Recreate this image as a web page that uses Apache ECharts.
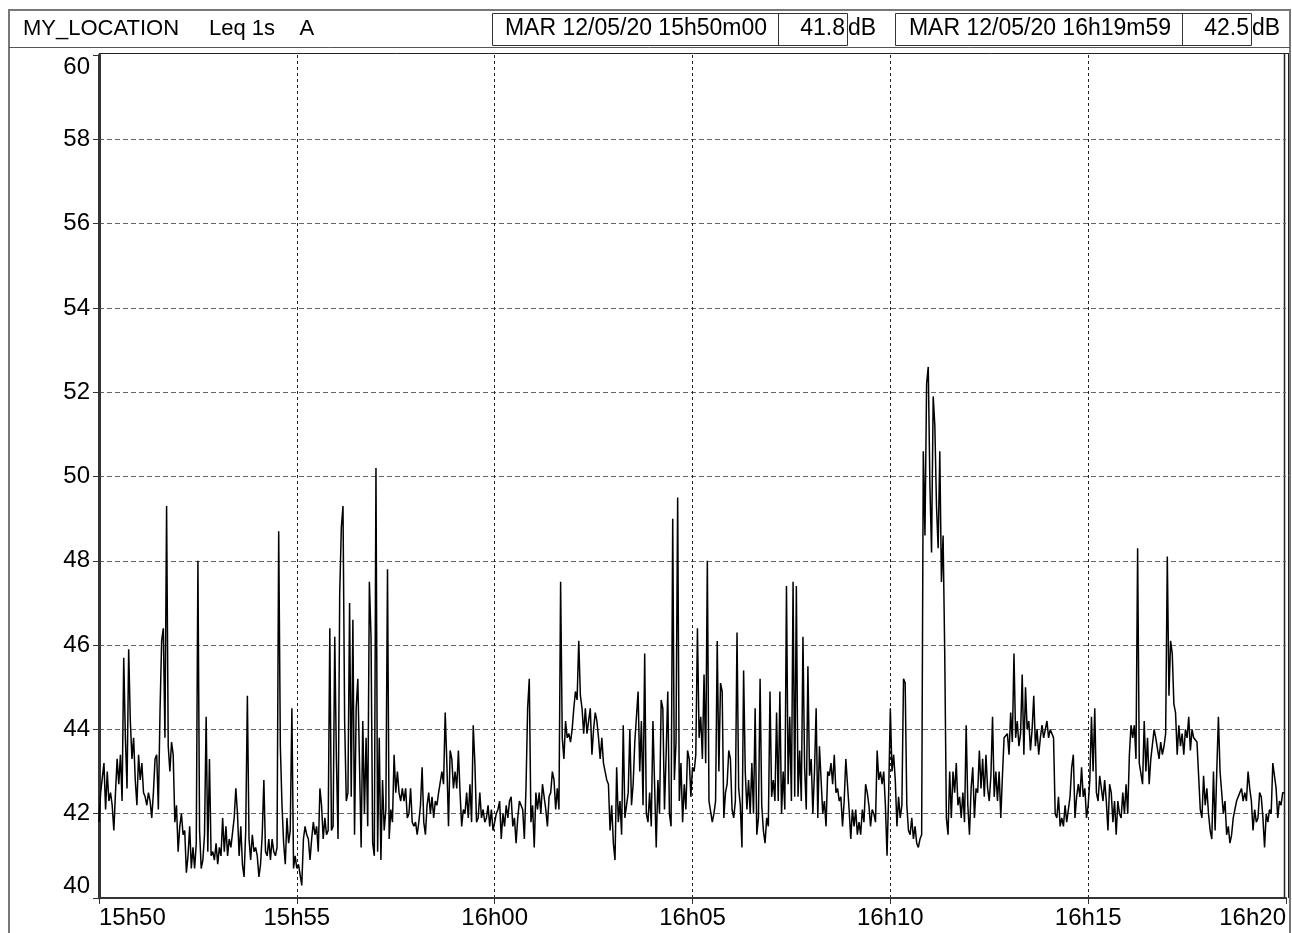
<!DOCTYPE html>
<html>
<head>
<meta charset="utf-8">
<title>MY_LOCATION Leq 1s A</title>
<script src="https://cdn.jsdelivr.net/npm/echarts@6/dist/echarts.min.js"></script>
<style>
  html, body { margin: 0; padding: 0; background: #fff; }
  #chart { width: 1292px; height: 933px; }
</style>
</head>
<body>
<div id="chart"></div>
<script>
// header fields
const STATION = 'MY_LOCATION'
const METRIC = 'Leq 1s    A'
const START_STAMP = 'MAR 12/05/20 15h50m00'
const START_LEVEL = '41.8'
const END_STAMP = 'MAR 12/05/20 16h19m59'
const END_LEVEL = '42.5'
const UNIT = 'dB'

// x axis: seconds since 15h50, one label every 5 minutes
const TIME_LABELS = ['15h50', '15h55', '16h00', '16h05', '16h10', '16h15', '16h20']
const STEP_S = 2.5

// Leq levels (dB), one value per 2.5 s, one array per 5 minutes
const level1550 = [
  41.8, 42.5, 42.5, 43.2, 42.1, 43.0, 42.3, 42.5, 42.2, 41.6,
  42.5, 43.3, 42.7, 43.4, 42.3, 45.7, 43.8, 42.6, 45.9, 44.2,
  43.3, 43.8, 42.8, 42.2, 43.4, 42.8, 43.2, 42.5, 42.4, 42.2,
  42.5, 42.3, 41.9, 42.5, 43.3, 43.4, 42.1, 44.4, 46.1, 46.4,
  43.8, 49.3, 43.6, 43.0, 43.7, 43.4, 41.8, 42.2, 41.1, 41.7,
  42.0, 41.5, 41.6, 40.6, 41.0, 41.7, 40.7, 41.2, 40.7, 41.3,
  48.0, 41.6, 40.7, 40.9, 41.5, 44.3, 41.1, 43.3, 41.0, 41.1,
  40.9, 41.3, 40.8, 41.2, 41.0, 41.9, 41.1, 41.7, 41.0, 41.4,
  41.2, 41.2, 41.9, 42.6, 42.0, 41.0, 41.7, 40.8, 40.5, 41.6,
  44.8, 41.4, 40.9, 41.5, 41.1, 41.2, 41.0, 40.5, 40.8, 41.5,
  42.8, 41.1, 41.0, 41.4, 40.9, 41.4, 41.1, 41.0, 41.2, 48.7,
  43.6, 42.2, 41.3, 40.8, 41.9, 41.3, 41.6, 44.5, 40.7, 41.0
]
const level1555 = [
  40.7, 40.8, 40.8, 40.3, 41.4, 41.7, 41.5, 41.4, 40.9, 41.4,
  41.8, 41.5, 41.7, 41.1, 42.6, 42.2, 41.4, 41.9, 41.5, 41.6,
  46.4, 41.6, 41.7, 46.2, 43.3, 41.4, 47.2, 48.8, 49.3, 44.2,
  42.3, 42.5, 47.0, 42.4, 46.6, 41.5, 44.5, 45.2, 45.2, 41.2,
  44.2, 42.0, 43.8, 41.7, 47.5, 46.2, 41.3, 41.0, 50.2, 41.1,
  43.8, 40.9, 42.8, 41.6, 42.1, 47.8, 41.4, 42.1, 41.8, 43.4,
  42.5, 43.0, 42.5, 42.3, 42.6, 42.3, 42.6, 41.9, 42.0, 42.6,
  41.8, 41.7, 41.8, 41.5, 41.8, 42.2, 43.1, 41.8, 41.5, 42.2,
  42.5, 42.0, 42.4, 41.9, 42.3, 42.2, 42.5, 42.5, 43.0, 42.7,
  44.4, 43.2, 41.7, 43.5, 43.3, 42.6, 43.0, 42.6, 43.5, 42.5,
  41.7, 42.1, 42.0, 42.5, 41.9, 42.7, 41.8, 44.1, 43.2, 41.8,
  41.9, 42.5, 41.9, 42.1, 41.8, 41.9, 42.2, 41.7, 42.1, 41.6
]
const level1600 = [
  41.8, 42.0, 42.1, 42.3, 41.4, 42.0, 41.7, 42.2, 41.9, 42.3,
  42.4, 41.7, 41.9, 41.3, 41.9, 42.3, 42.3, 42.1, 41.4, 42.6,
  44.5, 45.2, 41.8, 42.2, 41.2, 42.5, 42.1, 42.5, 42.0, 42.7,
  42.7, 42.1, 41.7, 42.4, 42.5, 43.0, 42.8, 42.1, 42.6, 42.1,
  47.5, 43.8, 43.3, 44.2, 43.8, 43.9, 43.7, 44.0, 44.5, 44.9,
  44.7, 46.1, 44.8, 44.5, 43.9, 44.5, 43.9, 44.2, 44.5, 43.4,
  44.0, 44.4, 44.2, 43.8, 43.3, 43.8, 43.2, 43.0, 42.8, 42.7,
  41.6, 42.2, 41.3, 40.9, 43.1, 41.8, 42.3, 41.5, 44.1, 41.9,
  42.2, 42.5, 44.0, 42.2, 42.7, 43.7, 44.3, 44.9, 43.0, 44.2,
  42.2, 45.8, 42.0, 41.8, 42.5, 41.7, 44.2, 42.7, 41.2, 42.8,
  42.0, 44.7, 44.5, 42.1, 43.4, 44.9, 42.0, 41.7, 49.0, 42.8,
  43.7, 49.5, 42.3, 43.2, 41.8, 42.7, 42.1, 43.5, 43.3, 42.4
]
const level1605 = [
  43.1, 43.0, 43.4, 46.4, 43.8, 44.3, 43.3, 45.3, 43.2, 48.0,
  42.3, 42.3, 41.8, 42.0, 42.3, 46.1, 43.0, 45.1, 44.9, 41.9,
  42.5, 42.7, 43.5, 43.3, 42.1, 41.9, 42.3, 46.3, 42.6, 42.2,
  41.2, 45.4, 43.0, 42.1, 42.8, 42.0, 43.2, 42.0, 44.5, 41.5,
  41.9, 45.2, 42.2, 41.6, 41.3, 41.9, 41.7, 44.9, 42.4, 42.8,
  42.3, 44.4, 42.3, 44.9, 42.0, 43.0, 42.1, 47.4, 42.7, 44.3,
  42.3, 47.5, 42.4, 47.4, 42.4, 43.5, 42.3, 46.2, 43.1, 42.1,
  45.5, 42.9, 43.3, 42.0, 43.0, 44.5, 41.9, 43.6, 43.6, 42.0,
  42.3, 41.7, 43.0, 42.9, 43.2, 42.7, 43.4, 42.5, 42.6, 42.3,
  42.4, 41.7, 42.3, 43.3, 42.7, 42.1, 41.4, 42.1, 41.7, 42.1,
  41.5, 41.8, 41.5, 42.1, 41.8, 42.7, 42.5, 42.2, 41.7, 42.1,
  42.0, 41.8, 43.5, 42.8, 43.0, 42.7, 43.0, 42.2, 41.0, 42.5
]
const level1610 = [
  44.5, 43.0, 43.4, 42.8, 41.7, 42.4, 41.9, 42.2, 45.2, 45.1,
  42.2, 41.6, 41.5, 41.9, 41.4, 41.7, 41.3, 41.2, 41.4, 41.5,
  50.6, 48.6, 52.2, 52.6, 49.8, 48.2, 51.9, 51.2, 49.3, 48.3,
  50.6, 47.5, 48.6, 45.8, 41.9, 41.5, 43.0, 41.9, 43.0, 42.5,
  43.2, 42.2, 42.4, 41.9, 42.5, 41.8, 44.1, 42.2, 41.5, 42.6,
  43.1, 41.9, 42.6, 42.5, 43.5, 42.6, 43.3, 42.4, 43.4, 42.6,
  42.3, 42.9, 44.3, 42.4, 43.0, 42.3, 43.0, 41.9, 42.9, 43.8,
  43.8, 43.9, 43.4, 44.4, 43.7, 45.8, 43.8, 44.2, 43.6, 43.9,
  45.3, 43.4, 45.0, 44.0, 44.2, 43.5, 44.0, 44.8, 43.6, 44.0,
  43.4, 43.8, 44.1, 43.8, 44.0, 44.2, 43.8, 44.0, 43.9, 43.8,
  42.0, 41.9, 42.4, 41.7, 41.9, 41.7, 42.2, 41.8, 42.1, 42.4,
  43.1, 43.4, 41.9, 42.4, 42.7, 42.4, 43.1, 42.4, 42.6, 41.9
]
const level1615 = [
  42.2, 42.8, 44.3, 43.0, 44.5, 42.5, 42.3, 42.9, 42.6, 42.3,
  42.8, 42.3, 41.6, 42.7, 42.5, 41.8, 42.3, 41.5, 42.3, 42.0,
  41.9, 42.5, 42.0, 42.7, 42.0, 43.4, 44.1, 43.8, 44.1, 43.3,
  48.3, 43.2, 43.2, 42.7, 44.2, 43.0, 43.8, 42.7, 43.3, 43.3,
  44.0, 43.8, 43.8, 43.3, 43.7, 43.4, 43.6, 43.9, 48.1, 44.8,
  46.1, 45.8, 44.6, 44.4, 43.4, 44.1, 43.6, 43.9, 43.4, 44.0,
  43.8, 44.3, 43.5, 44.0, 43.8, 43.8, 43.7, 43.7, 42.1, 41.9,
  42.9, 42.2, 42.6, 42.0, 41.6, 41.4, 43.0, 41.6, 43.0, 44.3,
  43.0, 42.5, 42.0, 42.3, 41.5, 41.7, 41.3, 41.5, 41.9, 42.1,
  42.3, 42.3, 42.5, 42.6, 42.3, 42.5, 42.3, 43.0, 42.6, 42.3,
  41.6, 42.1, 41.8, 41.9, 42.5, 42.4, 41.9, 41.2, 42.0, 41.8,
  42.1, 42.0, 43.2, 42.9, 42.6, 41.9, 42.3, 42.2, 42.5, 42.5
]

const levels = [].concat(level1550, level1555, level1600, level1605, level1610, level1615)
const seriesData = levels.map((v, i) => [i * STEP_S, v])

const FONT = '"Liberation Sans", Arial, sans-serif'
const chart = echarts.init(document.getElementById('chart'), null, { renderer: 'canvas' })

function headerText(text, x, align, size) {
  return {
    type: 'text',
    x: x,
    y: 29,
    style: {
      text: text,
      fill: '#000',
      font: (size || 22) + 'px ' + FONT,
      align: align,
      verticalAlign: 'middle'
    }
  }
}

function box(x, w) {
  return {
    type: 'rect',
    shape: { x: x + 0.5, y: 13.5, width: w, height: 32 },
    style: { fill: 'none', stroke: '#333', lineWidth: 1 }
  }
}

const option = {
  backgroundColor: '#fff',
  animation: false,
  grid: { left: 99, right: 6, top: 55, bottom: 35 },
  xAxis: {
    type: 'value',
    min: 0,
    max: 1800,
    interval: 300,
    axisLine: { show: true, lineStyle: { color: '#333', width: 2 } },
    axisTick: { show: true, length: 6, lineStyle: { color: '#333' } },
    axisLabel: {
      formatter: v => TIME_LABELS[Math.round(v / 300)],
      color: '#000',
      fontSize: 24,
      fontFamily: FONT,
      margin: 8,
      alignMinLabel: 'left',
      alignMaxLabel: 'right'
    },
    splitLine: {
      show: true,
      showMinLine: false,
      showMaxLine: false,
      lineStyle: { color: '#222', type: [3, 3], width: 1 }
    }
  },
  yAxis: {
    type: 'value',
    min: 40,
    max: 60,
    interval: 2,
    axisLine: { show: true, lineStyle: { color: '#333', width: 3 } },
    axisTick: { show: true, length: 6, lineStyle: { color: '#333' } },
    axisLabel: {
      color: '#000',
      fontSize: 24,
      fontFamily: FONT,
      margin: 9,
      verticalAlignMinLabel: 'bottom',
      verticalAlignMaxLabel: 'top'
    },
    splitLine: {
      show: true,
      showMaxLine: false,
      lineStyle: { color: '#666', type: [5, 3], width: 1 }
    }
  },
  series: [
    {
      type: 'line',
      data: seriesData,
      showSymbol: false,
      lineStyle: { color: '#000', width: 1.5 },
      itemStyle: { color: '#000' }
    }
  ],
  graphic: [
    // outer frame and header strip
    {
      type: 'rect',
      shape: { x: 9, y: 10, width: 1281, height: 940 },
      style: { fill: 'none', stroke: '#777', lineWidth: 2 }
    },
    {
      type: 'line',
      shape: { x1: 9, y1: 47.5, x2: 1290, y2: 47.5 },
      style: { stroke: '#555', lineWidth: 1 }
    },
    headerText(STATION, 23, 'left'),
    headerText(METRIC, 209, 'left'),
    box(492, 286),
    box(778, 69),
    headerText(START_STAMP, 636, 'center', 23),
    headerText(START_LEVEL, 845, 'right', 23),
    headerText(UNIT, 848, 'left', 23),
    box(895, 287),
    box(1182, 69),
    headerText(END_STAMP, 1040, 'center', 23),
    headerText(END_LEVEL, 1249, 'right', 23),
    headerText(UNIT, 1252, 'left', 23),
    // plot frame: top edge and doubled right edge
    {
      type: 'line',
      shape: { x1: 99, y1: 53.5, x2: 1288, y2: 53.5 },
      style: { stroke: '#222', lineWidth: 1 }
    },
    {
      type: 'line',
      shape: { x1: 1284.5, y1: 53, x2: 1284.5, y2: 898 },
      style: { stroke: '#222', lineWidth: 1.5 }
    },
    {
      type: 'line',
      shape: { x1: 1288.5, y1: 53, x2: 1288.5, y2: 898 },
      style: { stroke: '#222', lineWidth: 1 }
    }
  ]
}

chart.setOption(option)

window.addEventListener('resize', () => chart.resize())
</script>
</body>
</html>
